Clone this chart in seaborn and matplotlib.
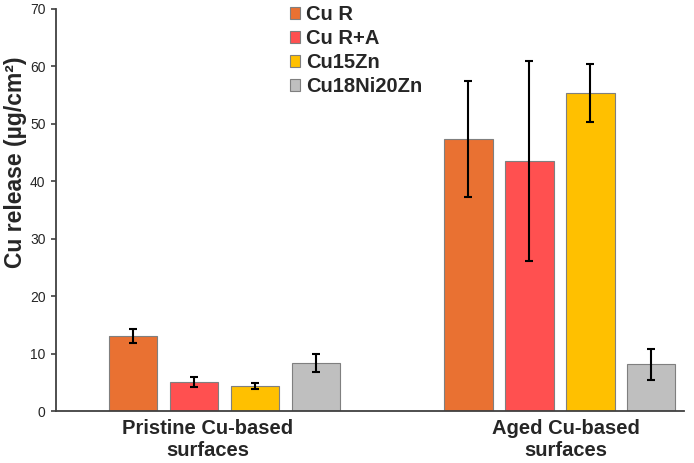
import pandas as pd
import numpy as np
import seaborn as sns
import matplotlib.pyplot as plt
from matplotlib.transforms import ScaledTranslation

# Data
groups = ["Pristine Cu-based\nsurfaces", "Aged Cu-based\nsurfaces"]
alloys = ["Cu R", "Cu R+A", "Cu15Zn", "Cu18Ni20Zn"]
pristine_mean = [13.1, 5.1, 4.3, 8.4]
pristine_err = [1.2, 0.85, 0.5, 1.55]
aged_mean = [47.4, 43.5, 55.4, 8.1]
aged_err = [10.1, 17.4, 5.0, 2.7]

colors = ["#E97132", "#FF5050", "#FFC000", "#BFBFBF"]

df = pd.DataFrame({
    "group": [groups[0]] * 4 + [groups[1]] * 4,
    "alloy": alloys * 2,
    "mean": pristine_mean + aged_mean,
    "err": pristine_err + aged_err,
})

sns.set_style("ticks")
plt.rcParams['font.family'] = ['Liberation Sans', 'DejaVu Sans']

fig = plt.figure(figsize=(6.94, 4.63), dpi=100)
ax = fig.add_axes([0.0807, 0.1123, 0.905, 0.8683])

sns.barplot(data=df, x="group", y="mean", hue="alloy", order=groups, hue_order=alloys,
            palette=colors, saturation=1, width=0.727, gap=0.21,
            edgecolor="#7F7F7F", linewidth=0.8, errorbar=None, ax=ax)

# Error bars at the bar centers given by seaborn (patches come hue by hue)
bars = ax.patches[:8]
for i, alloy in enumerate(alloys):
    for j, grp in enumerate(groups):
        bar = bars[i * 2 + j]
        sel = df[(df["alloy"] == alloy) & (df["group"] == grp)].iloc[0]
        cx = bar.get_x() + bar.get_width() / 2
        ax.errorbar(cx, sel["mean"], yerr=sel["err"], fmt="none", ecolor="black",
                    elinewidth=1.5, capsize=3, capthick=1.5)

ax.set_ylim(0, 70)
ax.set_yticks(np.arange(0, 71, 10))
ax.set_xlim(-0.502, 1.37)
ax.set_xlabel("")
ax.set_ylabel("Cu release (µg/cm²)", fontsize=16.5, fontweight="bold")
ax.yaxis.set_label_coords(-0.046, 0.62)
ax.tick_params(axis="y", labelsize=10, length=3.5, width=1.2, color="#404040", pad=4)
ax.tick_params(axis="x", length=0, labelsize=14.5, pad=6)

# category labels sit a little off the group centres in the reference
shifts = [-0.17, 0.06]
for lab, dx in zip(ax.get_xticklabels(), shifts):
    lab.set_fontweight("bold")
    lab.set_transform(lab.get_transform() + ScaledTranslation(dx, 0, fig.dpi_scale_trans))

sns.despine(ax=ax)
for side in ["left", "bottom"]:
    ax.spines[side].set_color("#404040")
    ax.spines[side].set_linewidth(1.3)

ax.legend(loc="upper left", bbox_to_anchor=(0.36, 1.03), frameon=False,
          prop={"weight": "bold", "size": 14.5}, handlelength=0.5, handleheight=0.5,
          handletextpad=0.3, labelspacing=0.25, borderaxespad=0)

plt.savefig("out.png", dpi=100)
